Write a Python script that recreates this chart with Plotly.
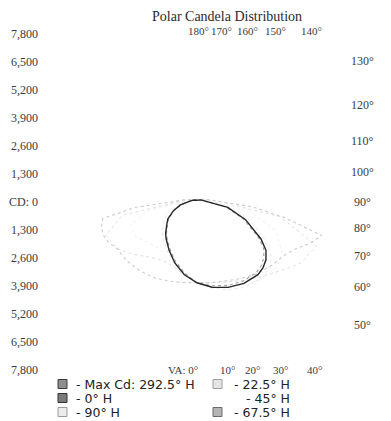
import math
import plotly.graph_objects as go

# ---------------- data ----------------
va_angles = [0, 10, 20, 30, 40, 45, 50, 55, 60, 70, 80, 90, 100, 120, 150, 180]
wide_angles = [0, 10, 20, 30, 40, 50, 60, 65, 70, 75, 80, 85, 90, 100, 120, 150, 180]

# Max Cd plane (292.5° H) and its opposite half-plane (112.5° H)
maxcd_side = [3750, 4020, 4220, 4360, 4400, 4330, 4180, 3910, 3430, 2400, 1450, 600, 380, 200, 100, 80]
maxcd_opp = [3750, 3420, 3010, 2590, 2230, 2060, 1880, 1700, 1560, 1150, 780, 450, 300, 180, 100, 80]
# 0° H / 180° H
h0_side = [3750, 3950, 4120, 4250, 4280, 4200, 4050, 3780, 3300, 2300, 1380, 560, 360, 190, 100, 80]
h0_opp = [3750, 3350, 2930, 2520, 2170, 2000, 1830, 1660, 1520, 1120, 760, 430, 290, 170, 100, 80]
# 22.5° H / 202.5° H
h22_side = [3750, 4050, 4350, 4550, 4650, 4600, 4450, 4150, 3700, 2700, 1700, 700, 420, 210, 100, 80]
h22_opp = [3750, 3450, 3050, 2700, 2400, 2250, 2100, 1950, 1800, 1450, 1000, 500, 320, 180, 100, 80]
# 45° H / 225° H
h45_side = [3750, 3950, 4200, 4450, 4650, 4700, 4750, 4700, 4550, 3900, 2500, 800, 450, 220, 100, 80]
h45_opp = [3750, 3500, 3150, 2900, 2800, 2850, 2950, 3100, 3250, 3300, 2400, 700, 400, 200, 100, 80]
# 67.5° H / 247.5° H
h67_side = [3750, 3800, 3950, 4200, 4550, 4750, 5000, 5300, 5600, 5900, 3900, 1100, 550, 250, 110, 80]
h67_opp = [3750, 3450, 3200, 3150, 3350, 3550, 3800, 4050, 4300, 4500, 3500, 900, 480, 230, 110, 80]
# 90° H / 270° H (wide)
h90_side = [3750, 3800, 3900, 4100, 4350, 4550, 4800, 5100, 5600, 6000, 4100, 2600, 1200, 600, 250, 110, 80]
h90_opp = [3750, 3800, 3900, 4050, 4150, 4250, 4300, 4500, 4600, 4600, 4450, 2900, 1200, 600, 250, 110, 80]

cd_ticks = [7800, 6500, 5200, 3900, 2600, 1300, 0, -1300, -2600, -3900, -5200, -6500, -7800]
cd_labels = ["7,800", "6,500", "5,200", "3,900", "2,600", "1,300", "CD: 0",
             "1,300", "2,600", "3,900", "5,200", "6,500", "7,800"]
right_angles = [130, 120, 110, 100, 90, 80, 70, 60, 50]
top_angles = [180, 170, 160, 150, 140]
bottom_angles = [0, 10, 20, 30, 40]

legend_left = ["- Max Cd: 292.5° H", "- 0° H", "- 90° H"]
legend_right = ["- 22.5° H", "- 45° H", "- 67.5° H"]

# ---------------- layout geometry ----------------
W, H = 391, 421
ML = 31
CX, CY = 189, 194          # pixel of the polar origin
K = 28 / 1300              # px per candela


def to_data(px, py):
    return (px - CX) / K, (CY - py) / K


x0, _ = to_data(ML, 0)
x1, _ = to_data(W, 0)
_, y1 = to_data(0, 0)
_, y0 = to_data(0, H)


def polar_xy(angles, side, opp):
    xs, ys = [], []
    for a, c in zip(reversed(angles), reversed(opp)):
        r = math.radians(a)
        xs.append(-c * math.sin(r)); ys.append(-c * math.cos(r))
    for a, c in zip(angles, side):
        r = math.radians(a)
        xs.append(c * math.sin(r)); ys.append(-c * math.cos(r))
    return xs, ys


fig = go.Figure()

series = [
    (va_angles, h45_side, h45_opp, "#f3f1e4", "dot", 1.0),
    (va_angles, h22_side, h22_opp, "#e8e8e8", "dot", 1.0),
    (va_angles, h67_side, h67_opp, "#e0e0e0", "dot", 1.0),
    (wide_angles, h90_side, h90_opp, "#cbcbcb", "dot", 1.1),
    (va_angles, h0_side, h0_opp, "#a0a0a0", "dot", 1.1),
    (va_angles, maxcd_side, maxcd_opp, "#262626", "solid", 1.4),
]
for ang, side, opp, col, dash, w in series:
    xs, ys = polar_xy(ang, side, opp)
    fig.add_trace(go.Scatter(x=xs, y=ys, mode="lines",
                             line=dict(color=col, width=w, dash=dash),
                             showlegend=False, hoverinfo="skip"))

serif = "Liberation Serif"
tick_font = dict(family=serif, size=12, color="#3a3a3a")
lab_font = dict(family=serif, size=12, color="#3a3a3a")
edge_font = dict(family=serif, size=11, color="#3a3a3a")
ann = []

# title
tx, ty = to_data(219, 0)
ann.append(dict(x=tx, y=ty, text="Polar Candela Distribution", showarrow=False,
                font=dict(family=serif, size=14, color="#2a2a2a"), borderpad=0,
                xanchor="center", yanchor="top"))

# right-edge angle labels (upper / lower reach differ)
for a in right_angles:
    dr = 168 if a > 90 else 147
    py = CY + dr / math.tan(math.radians(a)) if a != 90 else CY
    x, y = to_data(354, py)
    ann.append(dict(x=x, y=y, text=f"{a}°", showarrow=False, font=lab_font,
                    xanchor="center", yanchor="middle"))

# top-edge labels
DT = 135
for a in top_angles:
    px = CX + 1 + DT * math.tan(math.radians(180 - a))
    x, y = to_data(px, 23)
    ann.append(dict(x=x, y=y, text=f"{a}°", showarrow=False, font=edge_font,
                    borderpad=0, xanchor="center", yanchor="middle"))

# bottom-edge labels
DB = 130
for a in bottom_angles:
    px = CX + 8 + DB * math.tan(math.radians(a))
    if a == 0:
        x, y = to_data(CX + 3, 362)
        ann.append(dict(x=x, y=y, text="VA: 0°", showarrow=False, font=edge_font,
                        xanchor="right", yanchor="middle"))
    else:
        x, y = to_data(px, 362)
        ann.append(dict(x=x, y=y, text=f"{a}°", showarrow=False, font=edge_font,
                        xanchor="center", yanchor="middle"))

# legend (manual, two columns)
leg_font = dict(family="DejaVu Sans", size=12.5, color="#222222")
marker_styles_left = [("#8e8e8e", "#3c3c3c"), ("#7a7a7a", "#333333"), ("#ececec", "#9a9a9a")]
marker_styles_right = [("#e4e4e4", "#a0a0a0"), ("#ffffff", "#ffffff"), ("#b4b4b4", "#6a6a6a")]
shapes = []
rows_y = [376, 390, 404]
for lab, (fill, edge), ry in zip(legend_left, marker_styles_left, rows_y):
    ax0, ay0 = to_data(50, ry - 4.5)
    ax1, ay1 = to_data(59, ry + 4.5)
    shapes.append(dict(type="rect", xref="x", yref="y", x0=ax0, x1=ax1, y0=ay1, y1=ay0,
                       fillcolor=fill, line=dict(color=edge, width=1)))
    tx, ty = to_data(66, ry)
    ann.append(dict(x=tx, y=ty, text=lab, showarrow=False, font=leg_font,
                    xanchor="left", yanchor="middle"))
for lab, (fill, edge), ry in zip(legend_right, marker_styles_right, rows_y):
    ax0, ay0 = to_data(205, ry - 4.5)
    ax1, ay1 = to_data(214, ry + 4.5)
    shapes.append(dict(type="rect", xref="x", yref="y", x0=ax0, x1=ax1, y0=ay1, y1=ay0,
                       fillcolor=fill, line=dict(color=edge, width=1)))
    tx, ty = to_data(284, ry)
    ann.append(dict(x=tx, y=ty, text=lab, showarrow=False, font=leg_font,
                    xanchor="right", yanchor="middle"))

fig.update_layout(
    width=W, height=H,
    margin=dict(l=ML, r=0, t=0, b=0, pad=0),
    paper_bgcolor="white", plot_bgcolor="white",
    xaxis=dict(visible=False, range=[x0, x1], fixedrange=True),
    yaxis=dict(range=[y0, y1], tickvals=cd_ticks, ticktext=cd_labels,
               showgrid=False, zeroline=False, showline=False, ticks="",
               tickfont=tick_font, fixedrange=True),
    annotations=ann, shapes=shapes,
    showlegend=False,
)

fig.write_html("out.html")
